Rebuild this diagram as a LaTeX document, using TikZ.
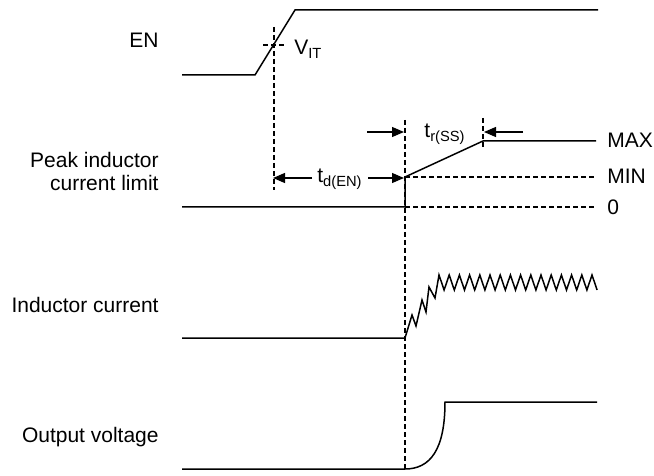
\documentclass[tikz,border=0pt]{standalone}
\usepackage{fontspec}
\setmainfont{Liberation Sans}
\usetikzlibrary{arrows.meta}

\begin{document}
\begin{tikzpicture}[x=0.5pt, y=-0.5pt,
  sig/.style={line width=0.75pt},
  guide/.style={line width=0.6pt, dash pattern=on 2.5pt off 1.5pt},
  dim/.style={-{Triangle[length=6pt, width=5pt]}, line width=0.6pt},
  lbl/.style={font=\fontsize{10.5}{11.5}\selectfont, anchor=base east, align=right, inner sep=0pt},
  tag/.style={font=\fontsize{10.5}{11.5}\selectfont, anchor=base west, inner sep=0pt}]
\useasboundingbox (0,0) rectangle (654,476);

% key instants
\coordinate (vit) at (274,45);
\coordinate (st) at (405,177);
\coordinate (ss) at (483,141);

% EN
\node[lbl] (en) at (159,48) {EN};
\draw[sig] (182,75) -- (255,75) -- (295,10) -- (598,10);
\draw[guide] (263,45) -- (285,45);
\draw[guide] (274,27) -- (274,190);
\node[tag] (vitl) at (294,55) {V\textsubscript{IT}};

% peak inductor current limit
\node[lbl] (peak) at (159,191) {Peak inductor\\current limit};
\draw[sig] (182,207) -- (405,207) -- (st) -- (ss) -- (596,141);
\draw[guide] (st) -- (596,177);
\draw[guide] (405,207) -- (596,207);
\node[tag] (max) at (607,148) {MAX};
\node[tag] (min) at (607,184) {MIN};
\node[tag] (zero) at (607,214) {0};

% timing marks
\draw[guide] (405,120) -- (405,470);
\draw[guide] (483,118) -- (483,148);
\coordinate (dl) at (273,178);
\coordinate (dr) at (404,178);
\coordinate (rl) at (404,132);
\coordinate (rr) at (484,132);
\node[font=\fontsize{10.5}{11.5}\selectfont, anchor=base, inner sep=0pt] (tden) at (340,183) {t\textsubscript{d(EN)}};
\node[font=\fontsize{10.5}{11.5}\selectfont, anchor=base, inner sep=0pt] (trss) at (445,138) {t\textsubscript{r(SS)}};
\draw[dim] (312,178) -- (dl);
\draw[dim] (368,178) -- (dr);
\draw[dim] (367,132) -- (rl);
\draw[dim] (523,132) -- (rr);

% inductor current
\node[lbl] (il) at (159,313) {Inductor current};
\draw[sig] (182,338) -- (405,338) -- (412,315) -- (416,326) -- (422,300) -- (426,312)
  -- (429,287) -- (435,298) -- (439,275)
  \foreach \k in {1,...,15} { -- ++(5.1,15) -- ++(5.1,-15) } -- ++(5.1,15);

% output voltage
\node[lbl] (vout) at (159,442) {Output voltage};
\draw[sig] (182,469) -- (405,469) .. controls (430,469) and (445,450) .. (445,402) -- (597,402);
\end{tikzpicture}
\end{document}
